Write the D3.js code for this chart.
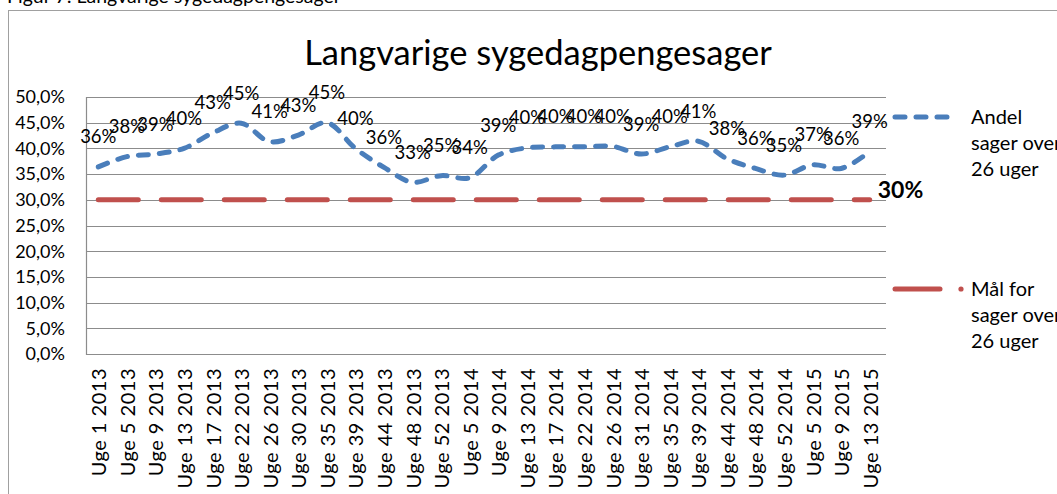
<!DOCTYPE html>
<html>
<head>
<meta charset="utf-8">
<script src="https://cdn.jsdelivr.net/npm/d3@7"></script>
<style>
  body { margin: 0; background: #fff; }
  text { font-family: Lato, "Open Sans", sans-serif; fill: #000; }
</style>
</head>
<body>
<div id="chart"></div>
<script>
const width = 1057;
const height = 494;

// data
const weeks = [
  "Uge 1 2013", "Uge 5 2013", "Uge 9 2013", "Uge 13 2013", "Uge 17 2013", "Uge 22 2013",
  "Uge 26 2013", "Uge 30 2013", "Uge 35 2013", "Uge 39 2013", "Uge 44 2013", "Uge 48 2013",
  "Uge 52 2013", "Uge 5 2014", "Uge 9 2014", "Uge 13 2014", "Uge 17 2014", "Uge 22 2014",
  "Uge 26 2014", "Uge 31 2014", "Uge 35 2014", "Uge 39 2014", "Uge 44 2014", "Uge 48 2014",
  "Uge 52 2014", "Uge 5 2015", "Uge 9 2015", "Uge 13 2015"
];
const andel = [
  0.364, 0.384, 0.389, 0.400, 0.430, 0.449, 0.413, 0.426, 0.450, 0.400, 0.363, 0.334,
  0.347, 0.343, 0.387, 0.401, 0.403, 0.403, 0.404, 0.389, 0.403, 0.414, 0.380, 0.361,
  0.348, 0.368, 0.361, 0.394
];
const maal = weeks.map(() => 0.30);
const yTicks = [0, 0.05, 0.10, 0.15, 0.20, 0.25, 0.30, 0.35, 0.40, 0.45, 0.50];

const blue = "#4a7ebb";
const red = "#c0504d";
const grid = "#8c8c8c";

const svg = d3.select("#chart")
  .append("svg")
  .attr("width", width)
  .attr("height", height);

// ramme
svg.append("rect")
  .attr("x", 8.5).attr("y", 10.5)
  .attr("width", 1100).attr("height", 600)
  .attr("fill", "#fff")
  .attr("stroke", "#a0a0a0");

svg.append("text")
  .attr("x", 7).attr("y", 3)
  .style("font-size", "19.5px")
  .text("Figur 7: Langvarige sygedagpengesager");

svg.append("text")
  .attr("x", 538).attr("y", 65)
  .attr("text-anchor", "middle")
  .style("font-size", "34.5px")
  .text("Langvarige sygedagpengesager");

const x = d3.scaleBand().domain(weeks).range([86, 886]);
const cx = d => x(d) + x.bandwidth() / 2 - 2;
const y = d3.scaleLinear().domain([0, 0.5]).range([354, 97]);

const fmtTick = v => d3.format(".1f")(v * 100).replace(".", ",") + "%";

// gitterlinjer
svg.append("g")
  .selectAll("line")
  .data(yTicks)
  .join("line")
  .attr("x1", 86).attr("x2", 886)
  .attr("y1", d => Math.round(y(d)) + 0.5)
  .attr("y2", d => Math.round(y(d)) + 0.5)
  .attr("stroke", grid)
  .attr("stroke-width", 1.2);

svg.append("line")
  .attr("x1", 86.5).attr("x2", 86.5)
  .attr("y1", y(0.5)).attr("y2", y(0) + 1)
  .attr("stroke", grid)
  .attr("stroke-width", 1.2);

// y-akse
svg.append("g")
  .selectAll("text")
  .data(yTicks)
  .join("text")
  .attr("x", 65)
  .attr("y", d => y(d))
  .attr("dy", "0.35em")
  .attr("text-anchor", "end")
  .style("font-size", "18px")
  .text(fmtTick);

// x-akse
svg.append("g")
  .selectAll("text")
  .data(weeks)
  .join("text")
  .attr("transform", d => `translate(${cx(d) + 1},368) rotate(-90)`)
  .attr("dy", "0.35em")
  .attr("text-anchor", "end")
  .style("font-size", "20px")
  .style("letter-spacing", "0.5px")
  .text(d => d);

// mål-linje
const line = d3.line()
  .x((d, i) => cx(weeks[i]))
  .y(d => y(d));

svg.append("path")
  .datum(maal)
  .attr("fill", "none")
  .attr("stroke", red)
  .attr("stroke-width", 5)
  .attr("stroke-linecap", "round")
  .attr("stroke-dasharray", "40,23")
  .attr("d", line);

// andel-linje
svg.append("path")
  .datum(andel)
  .attr("fill", "none")
  .attr("stroke", blue)
  .attr("stroke-width", 5)
  .attr("stroke-linecap", "round")
  .attr("stroke-dasharray", "10,11")
  .attr("d", line.curve(d3.curveCatmullRom.alpha(0.5)));

// datalabels
svg.append("g")
  .selectAll("text")
  .data(andel)
  .join("text")
  .attr("x", (d, i) => cx(weeks[i]))
  .attr("y", d => y(d) - 30)
  .attr("dy", "0.35em")
  .attr("text-anchor", "middle")
  .style("font-size", "18.5px")
  .text(d => Math.round(d * 100) + "%");

svg.append("text")
  .attr("x", cx(weeks[weeks.length - 1]) + 8)
  .attr("y", y(maal[maal.length - 1]) - 10)
  .attr("dy", "0.35em")
  .style("font-size", "23px")
  .style("font-weight", "bold")
  .text(Math.round(maal[maal.length - 1] * 100) + "%");

// forklaring
const legend = svg.append("g");
legend.append("line")
  .attr("x1", 895).attr("x2", 956)
  .attr("y1", 117).attr("y2", 117)
  .attr("stroke", blue).attr("stroke-width", 5)
  .attr("stroke-linecap", "round")
  .attr("stroke-dasharray", "10,11");
legend.append("line")
  .attr("x1", 895).attr("x2", 940)
  .attr("y1", 289).attr("y2", 289)
  .attr("stroke", red).attr("stroke-width", 5)
  .attr("stroke-linecap", "round");
legend.append("circle")
  .attr("cx", 961).attr("cy", 289).attr("r", 2.6)
  .attr("fill", red);

const legendText = [
  { y: 117, lines: ["Andel", "sager over", "26 uger"] },
  { y: 289, lines: ["Mål for", "sager over", "26 uger"] }
];
legendText.forEach(item => {
  legend.append("g")
    .selectAll("text")
    .data(item.lines)
    .join("text")
    .attr("x", 971)
    .attr("y", (d, i) => item.y + i * 26)
    .attr("dy", "0.35em")
    .style("font-size", "20px")
    .text(d => d);
});
</script>
</body>
</html>
